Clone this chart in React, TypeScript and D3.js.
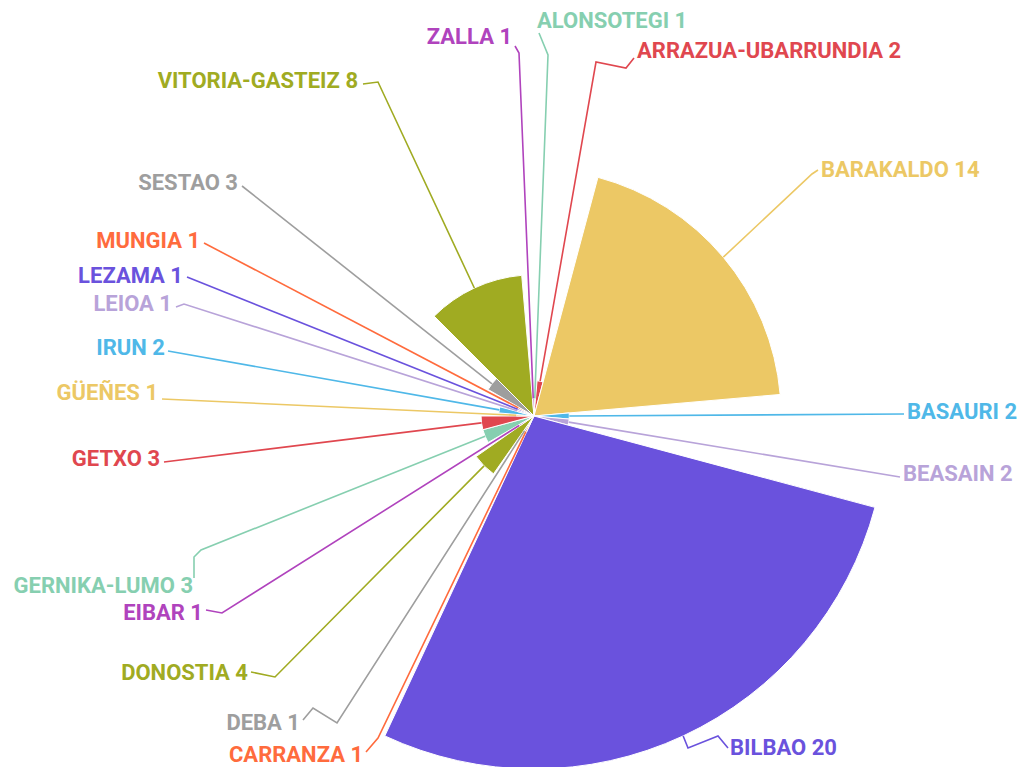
import React, { useEffect, useRef } from 'react';
import * as d3 from 'd3';

// Municipalities (clockwise from 12 o'clock) and their counts
const municipios = [
  'ALONSOTEGI', 'ARRAZUA-UBARRUNDIA', 'BARAKALDO', 'BASAURI', 'BEASAIN',
  'BILBAO', 'CARRANZA', 'DEBA', 'DONOSTIA', 'EIBAR',
  'GERNIKA-LUMO', 'GETXO', 'GÜEÑES', 'IRUN', 'LEIOA',
  'LEZAMA', 'MUNGIA', 'SESTAO', 'VITORIA-GASTEIZ', 'ZALLA',
];
const valores = [1, 2, 14, 2, 2, 20, 1, 1, 4, 1, 3, 3, 1, 2, 1, 1, 1, 3, 8, 1];

const palette = [
  '#86cfb0', '#e0474f', '#ecc865', '#4fb8e8', '#b8a3d9',
  '#6a52dd', '#ff6b3d', '#9e9e9e', '#a0ab22', '#b043bd',
];

// label layout: text anchor point and leader line bends
const labelLayout: { x: number; y: number; anchor: string; bends: [number, number][] }[] = [
  { x: 537, y: 28, anchor: 'start', bends: [[548, 55], [539, 33]] },
  { x: 637, y: 58, anchor: 'start', bends: [[596, 62], [626, 68], [634, 58]] },
  { x: 821, y: 177, anchor: 'start', bends: [[812, 174], [818, 170]] },
  { x: 907, y: 419, anchor: 'start', bends: [[904, 414]] },
  { x: 903, y: 481, anchor: 'start', bends: [[900, 477]] },
  { x: 730, y: 755, anchor: 'start', bends: [[688, 748], [718, 736], [728, 748]] },
  { x: 363, y: 762, anchor: 'end', bends: [[378, 738], [366, 752]] },
  { x: 300, y: 730, anchor: 'end', bends: [[337, 723], [313, 708], [303, 720]] },
  { x: 248, y: 680, anchor: 'end', bends: [[275, 677], [251, 672]] },
  { x: 203, y: 620, anchor: 'end', bends: [[222, 613], [206, 610]] },
  { x: 193, y: 593, anchor: 'end', bends: [[201, 550], [194, 557], [194, 578]] },
  { x: 160, y: 466, anchor: 'end', bends: [[164, 462]] },
  { x: 158, y: 400, anchor: 'end', bends: [[162, 399]] },
  { x: 165, y: 355, anchor: 'end', bends: [[168, 351]] },
  { x: 172, y: 311, anchor: 'end', bends: [[184, 304], [176, 307]] },
  { x: 183, y: 283, anchor: 'end', bends: [[187, 277]] },
  { x: 200, y: 248, anchor: 'end', bends: [[204, 243]] },
  { x: 238, y: 190, anchor: 'end', bends: [[242, 186]] },
  { x: 358, y: 88, anchor: 'end', bends: [[378, 82], [363, 84]] },
  { x: 512, y: 44, anchor: 'end', bends: [[519, 53], [515, 46]] },
];

const width = 1021;
const height = 767;
const cx = 534;
const cy = 416;

const App = () => {
  const svgRef = useRef<SVGSVGElement>(null);

  useEffect(() => {
    const data = municipios.map((name, i) => ({ name, value: valores[i], i }));

    d3.select(svgRef.current).selectAll('*').remove();

    const svg = d3.select(svgRef.current)
      .attr('width', width)
      .attr('height', height);

    const g = svg.append('g').attr('transform', `translate(${cx},${cy})`);

    const r = d3.scaleLinear().domain([0, 20]).range([0, 353]);

    const pie = d3.pie<any>().sort(null).value(d => d.value);
    const arcs = pie(data);

    const arc = d3.arc<any>()
      .innerRadius(0)
      .outerRadius(d => r(d.data.value));

    // leader lines
    arcs.forEach((d, i) => {
      const mid = (d.startAngle + d.endAngle) / 2;
      const rr = r(d.data.value);
      const start: [number, number] = [cx + Math.sin(mid) * rr, cy - Math.cos(mid) * rr];
      const pts = [start, ...labelLayout[i].bends];
      svg.append('path')
        .attr('d', d3.line()(pts))
        .attr('fill', 'none')
        .attr('stroke', palette[i % palette.length])
        .attr('stroke-width', 1.6);
    });

    // slices
    g.selectAll('.slice')
      .data(arcs)
      .enter().append('path')
      .attr('class', 'slice')
      .attr('d', arc)
      .attr('fill', d => palette[d.data.i % palette.length])
      .attr('stroke', '#fff')
      .attr('stroke-width', 1);

    // labels
    svg.selectAll('.label')
      .data(data)
      .enter().append('text')
      .attr('class', 'label')
      .attr('x', d => labelLayout[d.i].x)
      .attr('y', d => labelLayout[d.i].y)
      .attr('text-anchor', d => labelLayout[d.i].anchor)
      .attr('fill', d => palette[d.i % palette.length])
      .style('font-family', 'Roboto, sans-serif')
      .style('font-weight', 700)
      .style('font-size', '22px')
      .text(d => `${d.name} ${d.value}`);
  }, []);

  return (
    <svg ref={svgRef} style={{ position: 'absolute', left: 0, top: 0, background: '#fff' }}></svg>
  );
};

export default App;
